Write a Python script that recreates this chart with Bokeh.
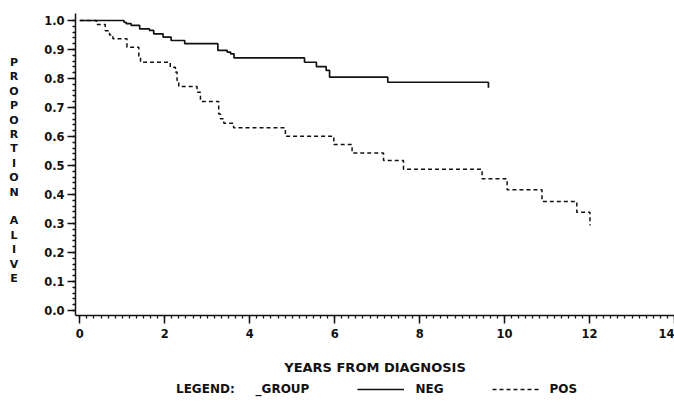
import numpy as np
from bokeh.plotting import figure
from bokeh.layouts import column, row
from bokeh.models import (FixedTicker, NumeralTickFormatter, Range1d, Legend, LegendItem,
                          ColumnDataSource)
from bokeh.core.properties import value
from bokeh.embed import file_html
from bokeh.resources import INLINE

# ---- data ----
neg_years = [0.0, 1.04, 1.09, 1.21, 1.41, 1.64, 1.74, 1.96, 2.15, 2.47, 3.25, 3.47,
             3.55, 3.63, 5.29, 5.57, 5.80, 5.88, 7.25, 9.62]
neg_surv = [1.0, 0.994, 0.989, 0.983, 0.971, 0.966, 0.954, 0.943, 0.931, 0.920, 0.897, 0.891,
            0.885, 0.871, 0.856, 0.841, 0.828, 0.805, 0.787, 0.768]

pos_years = [0.0, 0.39, 0.60, 0.70, 0.78, 1.11, 1.39, 1.43, 2.13, 2.25, 2.29, 2.33, 2.76,
             2.84, 3.27, 3.31, 3.39, 3.62, 4.84, 5.98, 6.41, 7.15, 7.62, 9.47, 10.06,
             10.88, 11.70, 12.01]
pos_surv = [1.0, 0.986, 0.965, 0.950, 0.937, 0.908, 0.871, 0.856, 0.839, 0.822, 0.793, 0.772,
            0.753, 0.721, 0.678, 0.661, 0.646, 0.630, 0.601, 0.572, 0.543, 0.517, 0.487,
            0.454, 0.416, 0.376, 0.339, 0.293]

x_ticks = [0, 2, 4, 6, 8, 10, 12, 14]
y_ticks = [0.0, 0.1, 0.2, 0.3, 0.4, 0.5, 0.6, 0.7, 0.8, 0.9, 1.0]
y_label = "PROPORTION ALIVE"
x_label = "YEARS FROM DIAGNOSIS"
legend_title = "LEGEND:\u00a0\u00a0\u00a0\u00a0\u00a0_GROUP"
group_names = ["NEG", "POS"]

FONT = "DejaVu Sans"
INK = "#111111"
TOP_H = 380          # height of the upper row (main chart)
LEFT_W = 30          # width of the strip holding the stacked y title
W, H = 674, 402
FRAME_TOP, FRAME_BOTTOM = 13, 315

# ---------------- main chart ----------------
p = figure(width=W - LEFT_W, height=TOP_H, output_backend="svg", toolbar_location=None,
           x_range=Range1d(-0.1012, 14.0), y_range=Range1d(-0.01724, 1.02414),
           min_border_left=45, min_border_right=0, min_border_top=FRAME_TOP,
           min_border_bottom=TOP_H - FRAME_BOTTOM)
p.outline_line_color = None
p.xgrid.visible = False
p.ygrid.visible = False

p.step(neg_years, neg_surv, mode="after", line_color=INK, line_width=1.7)
p.step(pos_years, pos_surv, mode="after", line_color=INK, line_width=1.5, line_dash="4 3")

xa = p.xaxis[0]
xa.ticker = FixedTicker(ticks=x_ticks, minor_ticks=list(np.arange(0, 14.01, 1 / 6)))
ya = p.yaxis[0]
ya.ticker = FixedTicker(ticks=y_ticks, minor_ticks=list(np.arange(0, 1.001, 0.02)))
ya.formatter = NumeralTickFormatter(format="0.0")
for ax in (xa, ya):
    ax.major_tick_out = 8
    ax.major_tick_in = 0
    ax.minor_tick_out = 3
    ax.minor_tick_in = 0
    ax.axis_line_width = 1.5
    ax.major_tick_line_width = 1.5
    ax.minor_tick_line_width = 1.3
    ax.axis_line_color = INK
    ax.major_tick_line_color = INK
    ax.minor_tick_line_color = INK
    ax.major_label_text_font = FONT
    ax.major_label_text_font_style = "bold"
    ax.major_label_text_font_size = "11.5px"
    ax.major_label_text_color = INK
xa.major_label_standoff = 5
ya.major_label_standoff = 3
xa.axis_label = x_label
xa.axis_label_text_font = FONT
xa.axis_label_text_font_style = "bold"
xa.axis_label_text_font_size = "13px"
xa.axis_label_text_color = INK
xa.axis_label_standoff = 19

# ---------------- stacked y-axis title ----------------
# (its frame is aligned with the main frame, so page-pixel y values are used)
lf = figure(width=LEFT_W, height=TOP_H, output_backend="svg", toolbar_location=None,
            x_range=Range1d(0, LEFT_W), y_range=Range1d(FRAME_BOTTOM, FRAME_TOP),
            x_axis_type=None, y_axis_type=None,
            min_border_left=0, min_border_right=0, min_border_top=FRAME_TOP,
            min_border_bottom=TOP_H - FRAME_BOTTOM)
lf.outline_line_color = None
lf.xgrid.visible = False
lf.ygrid.visible = False
letters = [ch for ch in y_label]
letter_src = ColumnDataSource(dict(
    ch=[c for c in letters if c != " "],
    x=[13.5 for c in letters if c != " "],
    y=[62 + i * 14.4 for i, c in enumerate(letters) if c != " "]))
lf.text(x="x", y="y", text="ch", source=letter_src, text_align="center",
        text_baseline="middle", text_font=value(FONT), text_font_style="bold",
        text_font_size="11px", text_color=INK)

# ---------------- legend strip ----------------
LEG_H = H - TOP_H
lg = figure(width=W, height=LEG_H, output_backend="svg", toolbar_location=None,
            x_range=Range1d(0, W), y_range=Range1d(0, LEG_H),
            x_axis_type=None, y_axis_type=None,
            min_border_left=0, min_border_right=0, min_border_top=0, min_border_bottom=0)
lg.outline_line_color = None
lg.xgrid.visible = False
lg.ygrid.visible = False
nan = float("nan")
r0 = lg.line([nan], [nan], line_alpha=0)
r1 = lg.line([nan], [nan], line_color=INK, line_width=1.5)
r2 = lg.line([nan], [nan], line_color=INK, line_width=1.5, line_dash="4 3")
legend = Legend(items=[LegendItem(label=legend_title, renderers=[r0]),
                       LegendItem(label=group_names[0], renderers=[r1]),
                       LegendItem(label=group_names[1], renderers=[r2])],
                orientation="horizontal", location=(118, 6),
                glyph_width=47, glyph_height=14, label_height=14, label_standoff=11,
                spacing=48, padding=0, margin=0, border_line_color=None,
                background_fill_alpha=0,
                label_text_font=FONT, label_text_font_style="bold",
                label_text_font_size="12px", label_text_color=INK)
lg.add_layout(legend)

layout = column(row(lf, p), lg)
open("out.html", "w").write(file_html(layout, INLINE))
